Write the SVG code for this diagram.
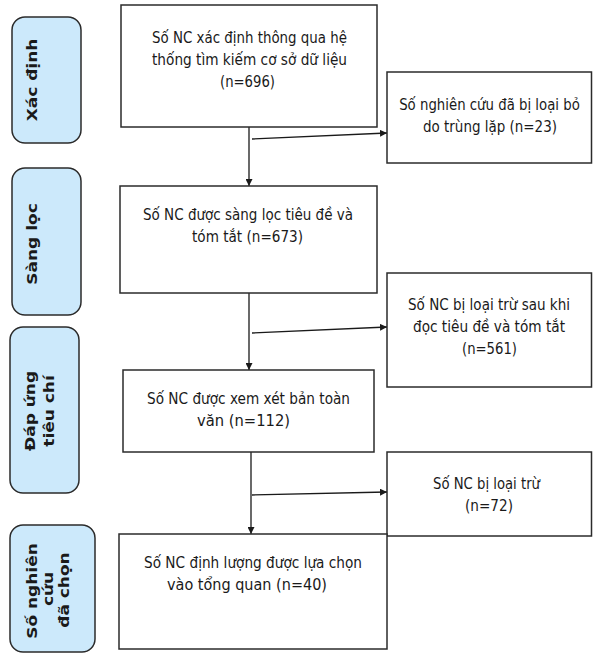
<svg xmlns="http://www.w3.org/2000/svg" width="593" height="655" viewBox="0 0 593 655">
<defs>
<style>
.bg{fill:#ffffff}
.box{fill:#ffffff;stroke:#2b2b2b;stroke-width:1.5}
.lbl{fill:#cce9fb;stroke:#2b2b2b;stroke-width:1.5}
.t{font-family:"DejaVu Sans","Liberation Sans",sans-serif;font-size:15.5px;fill:#1a1a1a;text-anchor:middle}
.lt{font-family:"DejaVu Sans","Liberation Sans",sans-serif;font-size:17px;font-weight:bold;fill:#1a1a1a;text-anchor:middle}
.c{fill:none;stroke:#1a1a1a;stroke-width:1.3}
</style>
<marker id="ah" viewBox="0 0 10 10" refX="10" refY="5" markerWidth="7" markerHeight="7" orient="auto" markerUnits="userSpaceOnUse">
<path d="M0,0 L10,5 L0,10 Z" fill="#1a1a1a"/>
</marker>
</defs>
<rect class="bg" x="0" y="0" width="593" height="655"/>

<g id="stage-xac-dinh">
<rect class="lbl" x="12" y="17" width="69" height="126" rx="13"/>
<text class="lt" transform="translate(37,80) scale(0.8,1) rotate(-90)">Xác định</text>
</g>
<g id="stage-sang-loc">
<rect class="lbl" x="12" y="168" width="69" height="147" rx="13"/>
<text class="lt" transform="translate(37,244) scale(0.8,1) rotate(-90)">Sàng lọc</text>
</g>
<g id="stage-dap-ung">
<rect class="lbl" x="10" y="327" width="69" height="166" rx="13"/>
<text class="lt" transform="translate(35,411) scale(0.8,1) rotate(-90)">Đáp ứng</text>
<text class="lt" transform="translate(54,411) scale(0.8,1) rotate(-90)">tiêu chí</text>
</g>
<g id="stage-da-chon">
<rect class="lbl" x="10" y="525" width="85" height="127" rx="13"/>
<text class="lt" transform="translate(37,591) scale(0.8,1) rotate(-90)">Số nghiên</text>
<text class="lt" transform="translate(53,589) scale(0.8,1) rotate(-90)">cứu</text>
<text class="lt" transform="translate(69,590) scale(0.8,1) rotate(-90)">đã chọn</text>
</g>

<g id="connectors">
<line class="c" x1="249" y1="127" x2="249" y2="186" marker-end="url(#ah)"/>
<line class="c" x1="252" y1="139" x2="387" y2="133" marker-end="url(#ah)"/>
<line class="c" x1="249" y1="293" x2="249" y2="370" marker-end="url(#ah)"/>
<line class="c" x1="252" y1="333" x2="387" y2="327" marker-end="url(#ah)"/>
<line class="c" x1="251" y1="452" x2="251" y2="534" marker-end="url(#ah)"/>
<line class="c" x1="252" y1="495" x2="387" y2="492" marker-end="url(#ah)"/>
</g>

<g id="box-identified">
<rect class="box" x="121" y="5" width="256" height="122"/>
<text class="t" x="249.5" y="43" textLength="195" lengthAdjust="spacingAndGlyphs">Số NC xác định thông qua hệ</text>
<text class="t" x="249.5" y="65" textLength="195" lengthAdjust="spacingAndGlyphs">thống tìm kiếm cơ sở dữ liệu</text>
<text class="t" x="247.5" y="87" textLength="55" lengthAdjust="spacingAndGlyphs">(n=696)</text>
</g>
<g id="box-duplicates">
<rect class="box" x="387" y="72" width="204.5" height="91"/>
<text class="t" transform="translate(489.5,110) scale(0.858,1)">Số nghiên cứu đã bị loại bỏ</text>
<text class="t" x="490" y="132" textLength="134" lengthAdjust="spacingAndGlyphs">do trùng lặp (n=23)</text>
</g>
<g id="box-screened">
<rect class="box" x="120" y="186" width="257" height="107"/>
<text class="t" x="248" y="220" textLength="210" lengthAdjust="spacingAndGlyphs">Số NC được sàng lọc tiêu đề và</text>
<text class="t" x="247.5" y="242" textLength="111" lengthAdjust="spacingAndGlyphs">tóm tắt (n=673)</text>
</g>
<g id="box-excluded-abstract">
<rect class="box" x="387" y="273" width="204.5" height="114"/>
<text class="t" x="489" y="310" textLength="162" lengthAdjust="spacingAndGlyphs">Số NC bị loại trừ sau khi</text>
<text class="t" x="489" y="332" textLength="152" lengthAdjust="spacingAndGlyphs">đọc tiêu đề và tóm tắt</text>
<text class="t" x="489.5" y="354" textLength="55" lengthAdjust="spacingAndGlyphs">(n=561)</text>
</g>
<g id="box-fulltext">
<rect class="box" x="123" y="370" width="251" height="82"/>
<text class="t" x="248.5" y="404" textLength="203" lengthAdjust="spacingAndGlyphs">Số NC được xem xét bản toàn</text>
<text class="t" x="243.5" y="426" textLength="93" lengthAdjust="spacingAndGlyphs">văn (n=112)</text>
</g>
<g id="box-excluded-fulltext">
<rect class="box" x="387" y="452" width="204.5" height="84"/>
<text class="t" x="486.5" y="489" textLength="107" lengthAdjust="spacingAndGlyphs">Số NC bị loại trừ</text>
<text class="t" x="489" y="511" textLength="48" lengthAdjust="spacingAndGlyphs">(n=72)</text>
</g>
<g id="box-included">
<rect class="box" x="119" y="534" width="268" height="115"/>
<text class="t" x="253" y="568" textLength="218" lengthAdjust="spacingAndGlyphs">Số NC định lượng được lựa chọn</text>
<text class="t" x="247" y="590" textLength="160" lengthAdjust="spacingAndGlyphs">vào tổng quan (n=40)</text>
</g>
</svg>
